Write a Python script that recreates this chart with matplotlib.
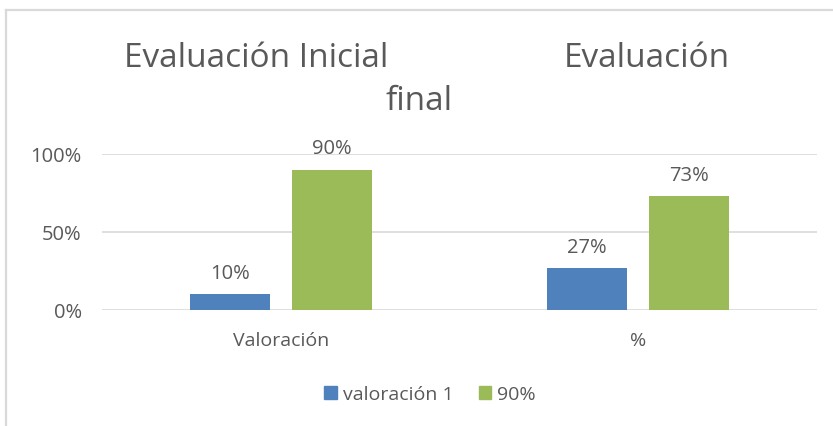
import matplotlib
matplotlib.use("Agg")
import matplotlib.pyplot as plt
from matplotlib.lines import Line2D
from matplotlib.patches import Patch
import numpy as np

categories = ["Valoración", "%"]
series_names = ["valoración 1", "90%"]
series_values = [[0.10, 0.27], [0.90, 0.73]]
value_labels = [["10%", "27%"], ["90%", "73%"]]
yticks = [0, 0.5, 1.0]
ytick_labels = ["0%", "50%", "100%"]
colors = ["#4F81BD", "#9BBB59"]

plt.rcParams['font.family'] = ['Open Sans', 'DejaVu Sans']
TXT = "#595959"
W, H = 833, 427
fig = plt.figure(figsize=(W/100, H/100), dpi=100)

def fx(px): return px / W
def fy(py): return 1 - py / H

# chart border
fig.add_artist(Line2D([fx(6), fx(6)], [fy(11), 0], color="#D9D9D9", lw=1.6))
fig.add_artist(Line2D([fx(6), 1], [fy(11), fy(11)], color="#D9D9D9", lw=1.6))

ax = fig.add_axes([fx(102), fy(311), fx(817) - fx(102), fy(155) - fy(311)])
x = np.arange(len(categories))
bw = 0.224
gap = 0.0615
offsets = [-(bw + gap) / 2, (bw + gap) / 2]
for i, (name, vals) in enumerate(zip(series_names, series_values)):
    bars = ax.bar(x + offsets[i], vals, width=bw, color=colors[i], label=name, zorder=3)
    for b, lab in zip(bars, value_labels[i]):
        ax.annotate(lab, (b.get_x() + b.get_width() / 2, b.get_height()),
                    xytext=(0, 8), textcoords="offset points", ha="center", va="bottom",
                    fontsize=14.5, color=TXT, annotation_clip=False)
ax.set_xlim(-0.5, len(categories) - 0.5)
ax.set_ylim(0, 1.0)
ax.set_yticks(yticks)
ax.set_yticklabels(ytick_labels, fontsize=14.5, color=TXT)
ax.set_xticks(x)
ax.set_xticklabels(categories, fontsize=14, color=TXT)
ax.tick_params(axis="y", length=0, pad=14.5)
ax.tick_params(axis="x", length=0, pad=15)
for s in ax.spines.values():
    s.set_visible(False)
ax.yaxis.grid(True, color="#D9D9D9", lw=1.2, zorder=0)
ax.set_axisbelow(True)

# title
fig.text(fx(124), fy(67), "Evaluación Inicial", fontsize=24, color=TXT, ha="left", va="baseline")
fig.text(fx(564), fy(67), "Evaluación", fontsize=24, color=TXT, ha="left", va="baseline")
fig.text(fx(386), fy(110), "final", fontsize=24, color=TXT, ha="left", va="baseline")

handles = [Patch(color=c) for c in colors]
fig.legend(handles, series_names, loc="center", bbox_to_anchor=(fx(430), fy(395)), ncol=2,
           frameon=False, fontsize=14, labelcolor=TXT, handlelength=0.65, handleheight=0.65,
           handletextpad=0.3, columnspacing=1.3)

fig.savefig("out.png", dpi=100)
